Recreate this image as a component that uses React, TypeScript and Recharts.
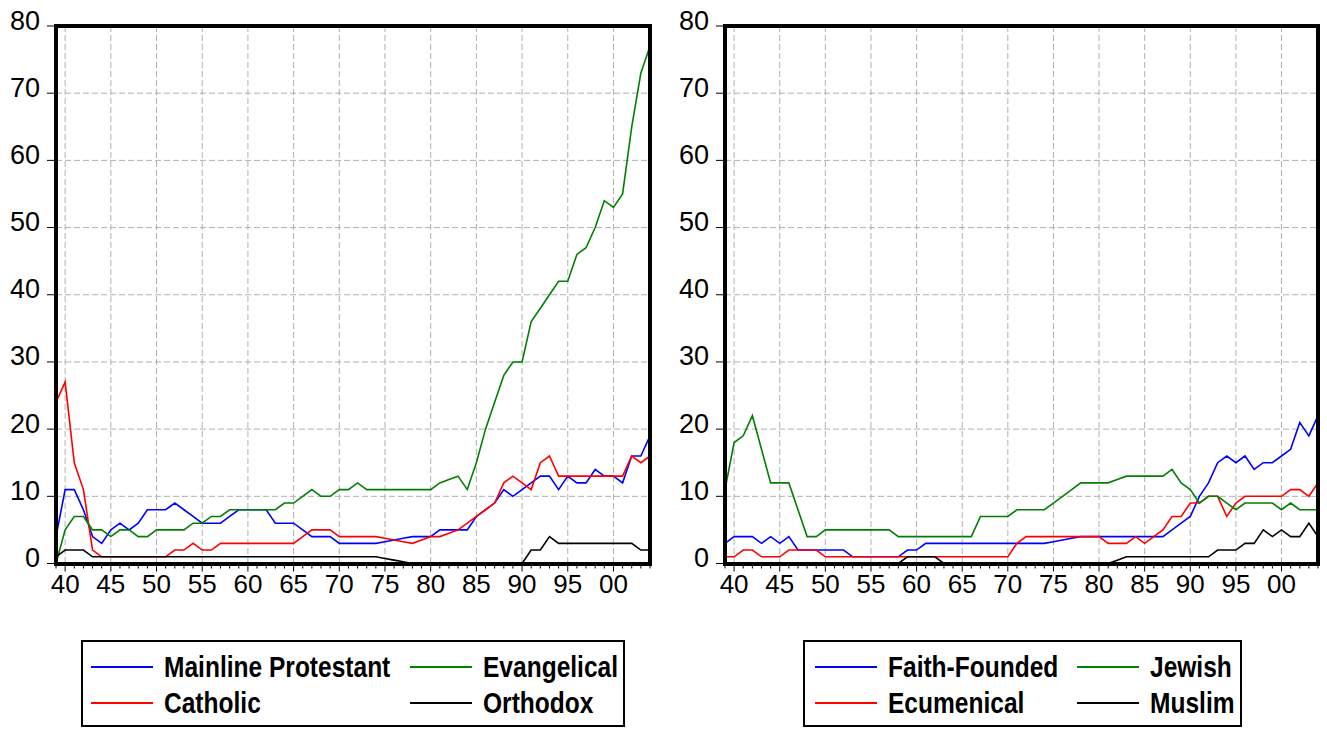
import React from 'react';
import {
    LineChart, Line, XAxis, YAxis, CartesianGrid, Legend
} from 'recharts';

// 1939 .. 2004
const years = Array.from({ length: 66 }, (_, i) => 1939 + i);
const labelYears = [1940, 1945, 1950, 1955, 1960, 1965, 1970, 1975, 1980, 1985, 1990, 1995, 2000];
const valueTicks = [0, 10, 20, 30, 40, 50, 60, 70, 80];

// left panel
const mainline = [
    4, 11, 11, 8, 4, 3, 5, 6, 5, 6,
    8, 8, 8, 9, 8, 7, 6, 6, 6, 7,
    8, 8, 8, 8, 6, 6, 6, 5, 4, 4,
    4, 3, 3, 3, 3, 3, 3.25, 3.5, 3.75, 4,
    4, 4, 5, 5, 5, 5, 7, 8, 9, 11,
    10, 11, 12, 13, 13, 11, 13, 12, 12, 14,
    13, 13, 12, 16, 16, 19,
];
const catholic = [
    24, 27, 15, 11, 2, 1, 1, 1, 1, 1,
    1, 1, 1, 2, 2, 3, 2, 2, 3, 3,
    3, 3, 3, 3, 3, 3, 3, 4, 5, 5,
    5, 4, 4, 4, 4, 4, 3.75, 3.5, 3.25, 3,
    3.5, 4, 4, 4.5, 5, 6, 7, 8, 9, 12,
    13, 12, 11, 15, 16, 13, 13, 13, 13, 13,
    13, 13, 13, 16, 15, 16,
];
const evangelical = [
    0, 5, 7, 7, 5, 5, 4, 5, 5, 4,
    4, 5, 5, 5, 5, 6, 6, 7, 7, 8,
    8, 8, 8, 8, 8, 9, 9, 10, 11, 10,
    10, 11, 11, 12, 11, 11, 11, 11, 11, 11,
    11, 11, 12, 12.5, 13, 11, 15, 20, 24, 28,
    30, 30, 36, 38, 40, 42, 42, 46, 47, 50,
    54, 53, 55, 65, 73, 77,
];
const orthodox = [
    1, 2, 2, 2, 1, 1, 1, 1, 1, 1,
    1, 1, 1, 1, 1, 1, 1, 1, 1, 1,
    1, 1, 1, 1, 1, 1, 1, 1, 1, 1,
    1, 1, 1, 1, 1, 1, 0.75, 0.5, 0.25, 0,
    0, 0, 0, 0, 0, 0, 0, 0, 0, 0,
    0, 0, 2, 2, 4, 3, 3, 3, 3, 3,
    3, 3, 3, 3, 2, 2,
];

// right panel
const faithFounded = [
    3, 4, 4, 4, 3, 4, 3, 4, 2, 2,
    2, 2, 2, 2, 1, 1, 1, 1, 1, 1,
    2, 2, 3, 3, 3, 3, 3, 3, 3, 3,
    3, 3, 3, 3, 3, 3, 3.25, 3.5, 3.75, 4,
    4, 4, 4, 4, 4, 4, 4, 4, 4, 5,
    6, 7, 10, 12, 15, 16, 15, 16, 14, 15,
    15, 16, 17, 21, 19, 22,
];
const ecumenical = [
    1, 1, 2, 2, 1, 1, 1, 2, 2, 2,
    2, 1, 1, 1, 1, 1, 1, 1, 1, 1,
    1, 1, 1, 1, 1, 1, 1, 1, 1, 1,
    1, 1, 3, 4, 4, 4, 4, 4, 4, 4,
    4, 4, 3, 3, 3, 4, 3, 4, 5, 7,
    7, 9, 9, 10, 10, 7, 9, 10, 10, 10,
    10, 10, 11, 11, 10, 12,
];
const jewish = [
    11, 18, 19, 22, 17, 12, 12, 12, 8, 4,
    4, 5, 5, 5, 5, 5, 5, 5, 5, 4,
    4, 4, 4, 4, 4, 4, 4, 4, 7, 7,
    7, 7, 8, 8, 8, 8, 9, 10, 11, 12,
    12, 12, 12, 12.5, 13, 13, 13, 13, 13, 14,
    12, 11, 9, 10, 10, 9, 8, 9, 9, 9,
    9, 8, 9, 8, 8, 8,
];
const muslim = [
    0, 0, 0, 0, 0, 0, 0, 0, 0, 0,
    0, 0, 0, 0, 0, 0, 0, 0, 0, 0,
    1, 1, 1, 1, 0, 0, 0, 0, 0, 0,
    0, 0, 0, 0, 0, 0, 0, 0, 0, 0,
    0, 0, 0, 0.5, 1, 1, 1, 1, 1, 1,
    1, 1, 1, 1, 2, 2, 2, 3, 3, 5,
    4, 5, 4, 4, 6, 4,
];

const leftData = years.map((year, i) => ({
    year, mainline: mainline[i], catholic: catholic[i], evangelical: evangelical[i], orthodox: orthodox[i],
}));
const rightData = years.map((year, i) => ({
    year, faith: faithFounded[i], ecumenical: ecumenical[i], jewish: jewish[i], muslim: muslim[i],
}));

const leftSeries = [
    { key: 'mainline', name: 'Mainline Protestant', color: '#0000ff' },
    { key: 'catholic', name: 'Catholic', color: '#ff0000' },
    { key: 'evangelical', name: 'Evangelical', color: '#008000' },
    { key: 'orthodox', name: 'Orthodox', color: '#000000' },
];
const rightSeries = [
    { key: 'faith', name: 'Faith-Founded', color: '#0000ff' },
    { key: 'ecumenical', name: 'Ecumenical', color: '#ff0000' },
    { key: 'jewish', name: 'Jewish', color: '#008000' },
    { key: 'muslim', name: 'Muslim', color: '#000000' },
];

const AXIS_FONT = '"Liberation Sans", Arial, sans-serif';
const GRID = '#b0b0b0';

// plot box geometry shared by the chart margins and the frame
const CHART_H = 729;
const M_TOP = 26;
const M_LEFT = 10;
const X_AXIS_H = 60;
const M_BOTTOM = 105.5;
const FRAME_W = 4;

function YearTick(props: any) {
    const { x, y, payload } = props;
    const yr = payload.value;
    const major = yr % 5 === 0;
    return (
        <g>
            <line x1={x} y1={y} x2={x} y2={y + (major ? 8 : 5)} stroke="#000" strokeWidth={1} />
            {major && (
                <text x={x} y={y + 29} textAnchor="middle" fontSize={26} fontFamily={AXIS_FONT} fill="#000">
                    {String(yr % 100).padStart(2, '0')}
                </text>
            )}
        </g>
    );
}

function ValueTick(props: any) {
    const { x, y, payload } = props;
    return (
        <text x={x} y={y + 3.5} textAnchor="end" fontSize={27} fontFamily={AXIS_FONT} fill="#000">
            {payload.value}
        </text>
    );
}

function LegendBox({ payload, series, col1, padLeft }: any) {
    const items = series.map((s: any) => {
        const p = (payload || []).find((e: any) => e.dataKey === s.key);
        return { name: s.name, color: p ? p.color : s.color };
    });
    const cols = [items.slice(0, 2), items.slice(2, 4)];
    return (
        <div style={{
            boxSizing: 'border-box', width: '100%', height: '100%', border: '2px solid #000',
            display: 'flex', paddingTop: 7, paddingLeft: padLeft, background: '#fff', overflow: 'hidden',
        }}>
            {cols.map((c: any[], ci: number) => (
                <div key={ci} style={{ width: ci === 0 ? col1 : undefined, flexShrink: 0 }}>
                    {c.map((it) => (
                        <div key={it.name} style={{ display: 'flex', alignItems: 'center', height: 36 }}>
                            <div style={{ width: 62, flexShrink: 0, borderTop: `2px solid ${it.color}` }} />
                            <span style={{
                                display: 'inline-block', marginLeft: 11, fontFamily: AXIS_FONT, fontWeight: 'bold',
                                fontSize: 29, whiteSpace: 'nowrap', lineHeight: '36px', color: '#000',
                                transform: 'scaleX(0.846)', transformOrigin: 'left center',
                            }}>{it.name}</span>
                        </div>
                    ))}
                </div>
            ))}
        </div>
    );
}

function Panel({ data, series, width, yAxisWidth, marginRight, legendLeft, legendWidth, col1, padLeft }: any) {
    const plotLeft = M_LEFT + yAxisWidth;
    const plotW = width - plotLeft - marginRight;
    const plotH = CHART_H - M_TOP - M_BOTTOM - X_AXIS_H;
    return (
        <div style={{ position: 'relative', width, height: CHART_H }}>
            <LineChart width={width} height={CHART_H} data={data}
                margin={{ top: M_TOP, right: marginRight, bottom: M_BOTTOM, left: M_LEFT }}>
                <XAxis xAxisId="grid" dataKey="year" type="number" domain={[1939, 2004]} ticks={labelYears} hide />
                <CartesianGrid xAxisId="grid" stroke={GRID} strokeDasharray="6 3" />
                <XAxis dataKey="year" type="number" domain={[1939, 2004]} ticks={years} interval={0}
                    tick={<YearTick />} tickLine={false} axisLine={false} tickSize={0} tickMargin={0} height={X_AXIS_H} />
                <YAxis domain={[0, 80]} ticks={valueTicks} interval={0} width={yAxisWidth}
                    tick={<ValueTick />} tickSize={9} tickMargin={7} axisLine={false}
                    tickLine={{ stroke: '#000', strokeWidth: 1 }} />
                {series.map((s: any) => (
                    <Line key={s.key} type="linear" dataKey={s.key} name={s.name} stroke={s.color}
                        strokeWidth={1.6} dot={false} activeDot={false} isAnimationActive={false} />
                ))}
                <Legend verticalAlign="middle" align="center" layout="horizontal"
                    wrapperStyle={{ position: 'absolute', left: legendLeft, top: 640, width: legendWidth, height: 87 }}
                    content={(p: any) => <LegendBox payload={p.payload} series={series} col1={col1} padLeft={padLeft} />} />
            </LineChart>
            <div style={{
                position: 'absolute', pointerEvents: 'none', boxSizing: 'border-box', zIndex: 5,
                left: plotLeft - FRAME_W / 2, top: M_TOP - FRAME_W / 2,
                width: plotW + FRAME_W, height: plotH + FRAME_W, border: `${FRAME_W}px solid #000`,
            }} />
        </div>
    );
}

export default function App() {
    return (
        <div style={{ position: 'absolute', left: 0, top: 0, width: 1327, height: 729, background: '#fff' }}>
            <div style={{ position: 'absolute', left: 0, top: 0 }}>
                <Panel data={leftData} series={leftSeries} width={660} yAxisWidth={46} marginRight={10}
                    legendLeft={81} legendWidth={544} col1={319} padLeft={8} />
            </div>
            <div style={{ position: 'absolute', left: 668, top: 0 }}>
                <Panel data={rightData} series={rightSeries} width={659} yAxisWidth={47} marginRight={9}
                    legendLeft={135} legendWidth={439} col1={262} padLeft={10} />
            </div>
        </div>
    );
}
